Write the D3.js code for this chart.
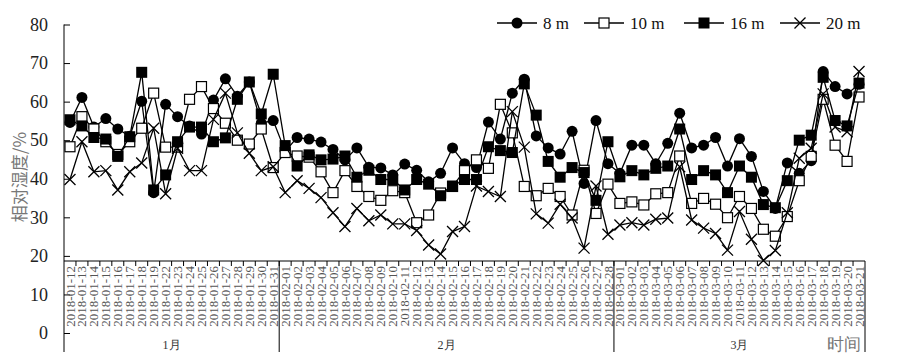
<!DOCTYPE html>
<html>
<head>
<meta charset="utf-8">
<script src="https://cdn.jsdelivr.net/npm/d3@7"></script>
<style>
  body { margin: 0; background: #fff; }
  text { font-family: "Liberation Serif", "Times New Roman", serif; }
</style>
</head>
<body>
<div id="chart"></div>
<script>
const F_WIDTH = 919;
const F_HEIGHT = 360;

// dates on the category axis (01-20 and 01-21 are missing in the source)
const dates = [
  "2018-01-12","2018-01-13","2018-01-14","2018-01-15","2018-01-16","2018-01-17","2018-01-18","2018-01-19",
  "2018-01-22","2018-01-23","2018-01-24","2018-01-25","2018-01-26","2018-01-27","2018-01-28","2018-01-29",
  "2018-01-30","2018-01-31",
  "2018-02-01","2018-02-02","2018-02-03","2018-02-04","2018-02-05","2018-02-06","2018-02-07","2018-02-08",
  "2018-02-09","2018-02-10","2018-02-11","2018-02-12","2018-02-13","2018-02-14","2018-02-15","2018-02-16",
  "2018-02-17","2018-02-18","2018-02-19","2018-02-20","2018-02-21","2018-02-22","2018-02-23","2018-02-24",
  "2018-02-25","2018-02-26","2018-02-27","2018-02-28",
  "2018-03-01","2018-03-02","2018-03-03","2018-03-04","2018-03-05","2018-03-06","2018-03-07","2018-03-08",
  "2018-03-09","2018-03-10","2018-03-11","2018-03-12","2018-03-13","2018-03-14","2018-03-15","2018-03-16",
  "2018-03-17","2018-03-18","2018-03-19","2018-03-20","2018-03-21"
];

const rh8 = [
  54.6,61.1,53.4,55.6,52.9,51.0,60.1,36.4,59.3,56.1,53.7,51.6,60.4,65.9,61.4,65.1,54.4,55.1,
  47.1,50.7,50.3,49.5,47.6,44.9,48.0,43.0,42.8,41.0,43.8,42.2,39.2,41.4,48.0,43.9,42.9,54.7,
  50.3,62.2,65.8,51.1,48.0,46.4,52.3,38.8,55.1,43.9,
  41.4,48.7,48.7,43.9,49.2,57.0,48.0,48.7,50.7,43.3,50.4,45.8,36.7,32.3,44.1,41.4,44.7,67.8,
  63.9,62.0,64.5
];
const rh10 = [
  48.3,56.1,52.9,49.6,46.3,49.6,53.1,62.2,48.2,48.2,60.6,63.9,58.2,54.4,50.0,49.0,52.9,42.9,
  46.8,45.9,45.6,41.8,36.4,42.1,38.0,35.4,34.4,36.9,36.4,28.6,30.6,36.3,38.0,42.1,44.9,42.7,
  59.3,51.9,38.0,35.6,37.5,35.4,30.6,42.2,31.0,38.6,
  33.6,34.0,33.2,36.1,36.4,45.9,33.6,34.9,33.4,29.9,35.4,32.3,26.9,25.1,30.2,39.5,45.8,60.6,
  48.7,44.5,61.2
];
const rh16 = [
  55.3,53.7,50.7,50.3,45.8,50.9,67.6,37.1,41.0,49.6,53.4,53.4,49.6,50.6,60.6,65.1,56.8,67.1,
  48.6,43.3,46.2,44.9,45.1,45.9,40.4,42.2,39.8,39.8,37.1,39.8,38.6,35.6,38.1,39.8,39.8,48.3,
  47.3,46.8,64.6,56.5,44.5,40.4,42.9,41.6,34.4,49.6,
  40.5,42.1,41.0,42.7,43.3,52.9,39.8,42.1,41.0,36.4,43.3,40.4,33.3,32.5,39.5,50.0,51.3,66.3,
  55.1,53.7,64.8
];
const rh20 = [
  39.8,49.6,41.8,42.1,37.1,41.8,44.1,53.1,36.1,47.9,42.1,42.1,55.4,62.2,51.9,46.6,42.1,43.1,
  36.4,39.5,37.5,35.1,31.2,27.6,32.3,29.1,30.6,28.3,28.3,26.6,22.8,20.5,26.3,27.6,38.1,36.7,
  35.4,57.4,48.2,30.9,28.5,33.4,29.8,22.0,38.1,25.6,
  28.0,28.6,28.0,29.5,29.8,43.1,29.3,27.2,25.8,21.5,31.5,24.3,18.8,21.4,31.2,45.3,47.9,62.0,
  53.4,52.2,67.8
];

const seriesNames = ["8 m", "10 m", "16 m", "20 m"];
const yTicks = [0, 10, 20, 30, 40, 50, 60, 70, 80];
const monthNames = {"01": "1月", "02": "2月", "03": "3月"};

const SVG = d3.select("#chart")
  .append("svg")
    .attr("width", F_WIDTH)
    .attr("height", F_HEIGHT);

const X_SCALE = d3.scaleBand()
  .domain(dates)
  .range([64, 865]);

const Y_SCALE = d3.scaleLinear()
  .domain([0, 80])
  .range([333, 24.5]);

const X_AXIS_Y = 261;
const BOTTOM_Y = 352;
const cx = (d) => X_SCALE(d) + X_SCALE.bandwidth() / 2;

// y-axis, ticks pointing inward
const yAxis = SVG.append("g")
  .attr("transform", "translate(64,0)")
  .call(d3.axisLeft(Y_SCALE).tickValues(yTicks).tickSize(-6).tickPadding(16));
yAxis.select(".domain").remove();
yAxis.selectAll("line").attr("stroke", "#000");
yAxis.selectAll("text")
  .attr("font-size", 18)
  .attr("fill", "#222")
  .style("font-family", "'Liberation Serif', serif");
SVG.append("line")
  .attr("x1", 64).attr("x2", 64)
  .attr("y1", Y_SCALE(80)).attr("y2", BOTTOM_Y)
  .attr("stroke", "#000");

// y label
SVG.append("text")
  .attr("transform", "translate(26," + 177 + ") rotate(-90)")
  .attr("text-anchor", "middle")
  .attr("font-size", 17)
  .attr("fill", "#777")
  .style("font-family", "'Noto Sans CJK SC', serif")
  .text("相对湿度/%");

// x-axis: date labels
const xAxis = SVG.append("g")
  .attr("transform", "translate(0," + X_AXIS_Y + ")")
  .call(d3.axisBottom(X_SCALE).tickSize(0).tickPadding(0));
xAxis.select(".domain").remove();
xAxis.selectAll("text")
  .attr("transform", "rotate(-90)")
  .attr("text-anchor", "end")
  .attr("x", -5)
  .attr("y", 0)
  .attr("dy", "0.35em")
  .attr("font-size", 13)
  .attr("fill", "#555")
  .style("font-family", "'Liberation Serif', serif");

SVG.append("line")
  .attr("x1", 64).attr("x2", 865)
  .attr("y1", X_AXIS_Y).attr("y2", X_AXIS_Y)
  .attr("stroke", "#000");

// ticks at band boundaries
SVG.append("g").selectAll("line")
  .data(dates.slice(1))
  .enter()
  .append("line")
    .attr("x1", (d) => X_SCALE(d)).attr("x2", (d) => X_SCALE(d))
    .attr("y1", X_AXIS_Y).attr("y2", X_AXIS_Y + 5)
    .attr("stroke", "#000");

// month groups
const months = d3.groups(dates, (d) => d.slice(5, 7));
const monthSpans = months.map(([m, ds]) => ({
  label: monthNames[m],
  x0: X_SCALE(ds[0]),
  x1: X_SCALE(ds[ds.length - 1]) + X_SCALE.bandwidth()
}));

SVG.append("g").selectAll("line")
  .data(monthSpans)
  .enter()
  .append("line")
    .attr("x1", (d) => d.x1).attr("x2", (d) => d.x1)
    .attr("y1", X_AXIS_Y).attr("y2", BOTTOM_Y)
    .attr("stroke", "#000");

SVG.append("g").selectAll("text")
  .data(monthSpans)
  .enter()
  .append("text")
    .attr("x", (d) => (d.x0 + d.x1) / 2)
    .attr("y", 349)
    .attr("text-anchor", "middle")
    .attr("font-size", 12)
    .attr("fill", "#333")
    .text((d) => d.label);

SVG.append("text")
  .attr("x", 861)
  .attr("y", 350)
  .attr("text-anchor", "end")
  .attr("font-size", 17)
  .attr("fill", "#777")
  .text("时间");

// marker drawing
function drawMarker(g, kind, x, y) {
  if (kind === 0) {
    g.append("circle").attr("cx", x).attr("cy", y).attr("r", 5.5).attr("fill", "#000");
  } else if (kind === 1) {
    g.append("rect").attr("x", x - 5).attr("y", y - 5).attr("width", 10).attr("height", 10)
      .attr("fill", "#fff").attr("stroke", "#000").attr("stroke-width", 1.2);
  } else if (kind === 2) {
    g.append("rect").attr("x", x - 5.5).attr("y", y - 5.5).attr("width", 11).attr("height", 11)
      .attr("fill", "#000");
  } else {
    g.append("path")
      .attr("d", "M" + (x - 5.5) + "," + (y - 5.5) + "L" + (x + 5.5) + "," + (y + 5.5) +
                 "M" + (x - 5.5) + "," + (y + 5.5) + "L" + (x + 5.5) + "," + (y - 5.5))
      .attr("stroke", "#000").attr("stroke-width", 1.3).attr("fill", "none");
  }
}

const allSeries = [rh8, rh10, rh16, rh20];

allSeries.forEach((vals, k) => {
  const g = SVG.append("g");
  const pts = dates.map((d, i) => [cx(d), Y_SCALE(vals[i])]);
  g.append("path")
    .attr("d", d3.line()(pts))
    .attr("fill", "none")
    .attr("stroke", "#000")
    .attr("stroke-width", 1.3);
  pts.forEach((p) => drawMarker(g, k, p[0], p[1]));
});

// legend
const legendX = [497, 584, 684, 780];
const LEG_Y = 23;
seriesNames.forEach((name, k) => {
  const g = SVG.append("g");
  const x0 = legendX[k];
  g.append("line")
    .attr("x1", x0).attr("x2", x0 + 40)
    .attr("y1", LEG_Y).attr("y2", LEG_Y)
    .attr("stroke", "#000").attr("stroke-width", 1.3);
  drawMarker(g, k, x0 + 20, LEG_Y);
  g.append("text")
    .attr("x", x0 + 46)
    .attr("y", LEG_Y + 6)
    .attr("font-size", 17)
    .attr("fill", "#111")
    .text(name);
});
</script>
</body>
</html>
